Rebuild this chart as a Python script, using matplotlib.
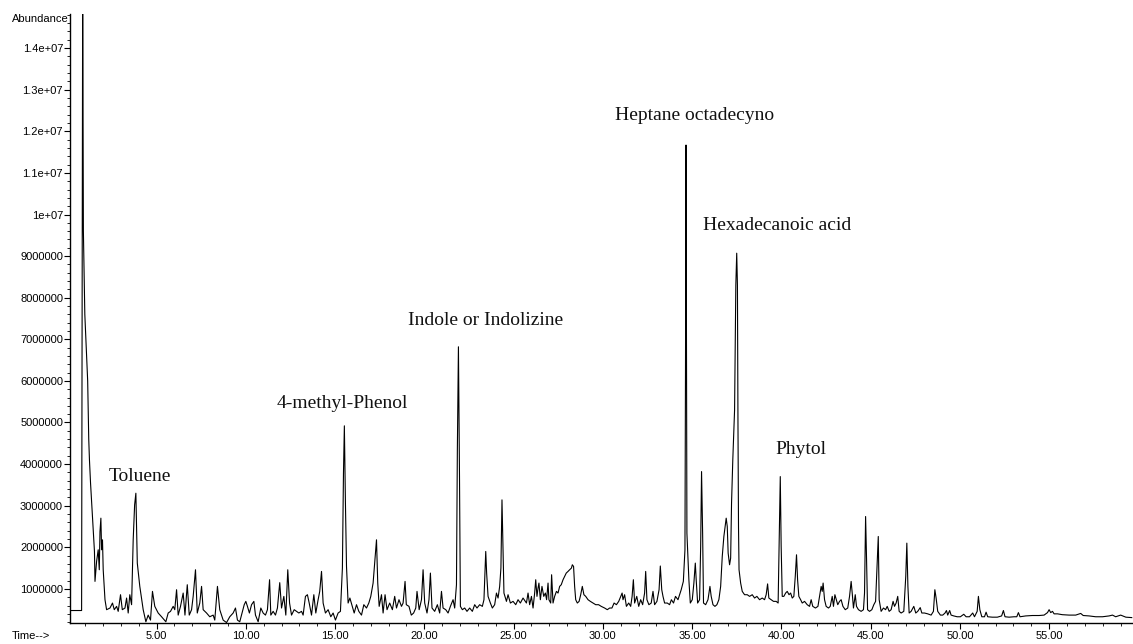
import numpy as np
import matplotlib.pyplot as plt
from matplotlib.ticker import MultipleLocator, FuncFormatter

# TIC: (retention time in min, abundance in millions)
seg_0_8 = [(0.15, 0.48), (0.80, 0.48), (0.86, 15.5), (0.87, 14.2), (0.88, 12.2), (0.90, 9.6),
           (0.98, 7.6), (1.14, 6.0), (1.16, 5.5), (1.20, 4.6), (1.24, 4.1), (1.30, 3.55),
           (1.40, 2.8), (1.52, 1.9), (1.55, 1.18), (1.64, 1.66), (1.73, 1.94), (1.79, 1.46),
           (1.83, 2.38), (1.88, 2.70), (1.92, 1.94), (1.97, 2.18), (2.01, 1.46), (2.11, 0.74),
           (2.20, 0.50), (2.39, 0.54), (2.53, 0.66), (2.63, 0.50), (2.76, 0.58), (2.85, 0.46),
           (2.98, 0.86), (3.08, 0.50), (3.23, 0.54), (3.32, 0.78), (3.41, 0.42), (3.50, 0.86),
           (3.60, 0.62), (3.69, 2.18), (3.77, 3.02), (3.84, 3.30), (3.92, 1.62), (4.06, 1.06),
           (4.25, 0.50), (4.40, 0.21), (4.53, 0.37), (4.66, 0.25), (4.77, 0.94), (4.90, 0.58),
           (5.09, 0.42), (5.28, 0.33), (5.52, 0.21), (5.65, 0.42), (5.78, 0.46), (5.93, 0.58),
           (6.02, 0.50), (6.12, 0.98), (6.21, 0.37), (6.34, 0.58), (6.49, 0.90), (6.59, 0.37),
           (6.72, 1.10), (6.83, 0.37), (6.96, 0.50), (7.05, 0.82), (7.18, 1.46), (7.28, 0.42),
           (7.42, 0.66), (7.52, 1.06), (7.61, 0.50), (7.80, 0.42), (7.98, 0.33), (8.17, 0.37),
           (8.26, 0.25), (8.41, 1.06)]

seg_8_17 = [(8.54, 0.50), (8.73, 0.25), (8.92, 0.19), (9.10, 0.33), (9.29, 0.42), (9.42, 0.54),
            (9.53, 0.25), (9.66, 0.21), (9.79, 0.42), (9.91, 0.62), (10.00, 0.70), (10.09, 0.58),
            (10.20, 0.42), (10.32, 0.62), (10.45, 0.70), (10.54, 0.37), (10.69, 0.21), (10.84, 0.54),
            (10.97, 0.42), (11.10, 0.37), (11.21, 0.50), (11.33, 1.22), (11.40, 0.37), (11.53, 0.46),
            (11.66, 0.37), (11.77, 0.54), (11.90, 1.15), (12.00, 0.54), (12.13, 0.82), (12.24, 0.37),
            (12.35, 1.46), (12.45, 0.66), (12.56, 0.37), (12.71, 0.50), (12.84, 0.46), (12.97, 0.42),
            (13.12, 0.46), (13.21, 0.37), (13.34, 0.82), (13.45, 0.86), (13.55, 0.66), (13.68, 0.37),
            (13.81, 0.86), (13.92, 0.42), (14.05, 0.74), (14.14, 0.94), (14.24, 1.42), (14.33, 0.66),
            (14.46, 0.42), (14.61, 0.50), (14.76, 0.33), (14.89, 0.42), (15.02, 0.25), (15.17, 0.42),
            (15.30, 0.46), (15.41, 1.50), (15.47, 3.78), (15.52, 4.92), (15.58, 3.06), (15.64, 1.54),
            (15.73, 0.66), (15.83, 0.78), (15.96, 0.58), (16.07, 0.42), (16.20, 0.62), (16.33, 0.46),
            (16.48, 0.37), (16.61, 0.62), (16.76, 0.54), (16.89, 0.66), (17.00, 0.82), (17.13, 1.14)]

seg_17_26 = [(17.32, 2.18), (17.39, 1.14), (17.47, 0.58), (17.60, 0.86), (17.69, 0.42), (17.80, 0.86),
             (17.91, 0.50), (18.06, 0.66), (18.21, 0.50), (18.34, 0.82), (18.44, 0.54), (18.58, 0.74),
             (18.72, 0.58), (18.81, 0.66), (18.92, 1.18), (18.99, 0.62), (19.14, 0.58), (19.27, 0.37),
             (19.40, 0.42), (19.52, 0.54), (19.59, 0.94), (19.71, 0.50), (19.84, 0.74), (19.93, 1.46),
             (20.02, 0.66), (20.15, 0.42), (20.26, 0.74), (20.34, 1.38), (20.43, 0.54), (20.58, 0.46),
             (20.73, 0.62), (20.86, 0.42), (20.96, 0.94), (21.05, 0.54), (21.20, 0.50), (21.33, 0.42),
             (21.46, 0.58), (21.61, 0.74), (21.70, 0.54), (21.80, 1.10), (21.85, 4.34), (21.91, 6.82),
             (21.97, 3.70), (22.02, 0.58), (22.13, 0.50), (22.26, 0.54), (22.39, 0.46), (22.54, 0.54),
             (22.69, 0.46), (22.82, 0.62), (22.95, 0.54), (23.10, 0.62), (23.25, 0.58), (23.34, 0.74),
             (23.44, 1.90), (23.49, 1.38), (23.57, 0.82), (23.70, 0.66), (23.81, 0.54), (23.94, 0.62),
             (24.04, 0.90), (24.13, 0.78), (24.22, 1.06), (24.29, 1.50), (24.35, 3.14), (24.41, 1.94),
             (24.46, 0.90), (24.60, 0.70), (24.69, 0.86), (24.82, 0.66), (24.97, 0.70), (25.12, 0.62),
             (25.25, 0.74), (25.38, 0.66), (25.53, 0.78)]

seg_26_34 = [(25.72, 0.66), (25.81, 0.90), (25.90, 0.62), (26.00, 0.82), (26.09, 0.54), (26.18, 0.90),
             (26.24, 1.22), (26.31, 0.82), (26.37, 1.02), (26.42, 1.14), (26.50, 0.74), (26.59, 1.06),
             (26.69, 0.82), (26.78, 0.90), (26.85, 0.74), (26.93, 1.14), (26.98, 0.74), (27.08, 0.66),
             (27.13, 1.34), (27.21, 0.66), (27.30, 0.82), (27.40, 0.94), (27.49, 0.90), (27.58, 1.06),
             (27.67, 1.10), (27.77, 1.22), (27.86, 1.30), (27.95, 1.38), (28.05, 1.42), (28.14, 1.46),
             (28.24, 1.50), (28.29, 1.58), (28.36, 1.54), (28.42, 1.06), (28.48, 0.74), (28.57, 0.66),
             (28.67, 0.70), (28.76, 0.86), (28.85, 1.06), (28.94, 0.86), (29.04, 0.82), (29.17, 0.74),
             (29.30, 0.70), (29.45, 0.66), (29.60, 0.62), (29.76, 0.62), (29.91, 0.58), (30.10, 0.54),
             (30.25, 0.50), (30.38, 0.54), (30.51, 0.54), (30.63, 0.66), (30.76, 0.62), (30.89, 0.70),
             (31.00, 0.82), (31.08, 0.90), (31.13, 0.74), (31.22, 0.86), (31.32, 0.58), (31.45, 0.66),
             (31.56, 0.58), (31.64, 0.82), (31.71, 1.22), (31.78, 0.66), (31.90, 0.82), (32.01, 0.58),
             (32.12, 0.74), (32.23, 0.62), (32.34, 0.90), (32.40, 1.42), (32.47, 0.74), (32.58, 0.62),
             (32.71, 0.66), (32.81, 0.94), (32.90, 0.62), (33.03, 0.70), (33.15, 0.98), (33.22, 1.55),
             (33.30, 0.98), (33.37, 0.82), (33.46, 0.66), (33.61, 0.66), (33.74, 0.62), (33.84, 0.74),
             (33.96, 0.66), (34.07, 0.82), (34.21, 0.74), (34.30, 0.86), (34.39, 0.98), (34.51, 1.18)]

seg_34_43 = [(34.60, 1.94), (34.63, 6.2), (34.66, 11.67), (34.71, 2.34), (34.77, 1.70), (34.82, 1.22),
             (34.90, 0.66), (35.01, 0.74), (35.10, 1.14), (35.18, 1.62), (35.23, 1.22), (35.31, 0.66),
             (35.42, 0.74), (35.48, 2.02), (35.53, 3.82), (35.59, 2.34), (35.64, 0.66), (35.76, 0.62),
             (35.89, 0.74), (36.00, 1.06), (36.07, 0.82), (36.17, 0.62), (36.28, 0.58), (36.39, 0.62),
             (36.50, 0.74), (36.60, 1.06), (36.69, 1.78), (36.78, 2.26), (36.86, 2.54), (36.91, 2.70),
             (36.97, 2.50), (37.02, 1.86), (37.10, 1.58), (37.16, 1.74), (37.21, 3.06), (37.28, 4.10),
             (37.38, 5.3), (37.45, 8.3), (37.50, 9.07), (37.54, 8.3), (37.57, 5.0), (37.60, 2.5),
             (37.63, 1.46), (37.72, 1.14), (37.81, 0.94), (37.94, 0.86), (38.09, 0.86), (38.22, 0.82),
             (38.37, 0.86), (38.50, 0.78), (38.63, 0.82), (38.78, 0.74), (38.93, 0.78), (39.06, 0.74),
             (39.15, 0.86), (39.23, 1.12), (39.30, 0.78), (39.43, 0.74), (39.56, 0.70), (39.71, 0.70),
             (39.82, 0.66), (39.88, 2.26), (39.94, 3.70), (39.99, 2.02), (40.05, 0.82), (40.14, 0.82),
             (40.24, 0.90), (40.33, 0.94), (40.43, 0.86), (40.52, 0.90), (40.61, 0.78), (40.70, 0.82),
             (40.78, 1.30), (40.85, 1.82), (40.91, 1.22), (40.98, 0.82), (41.08, 0.74), (41.17, 0.66),
             (41.30, 0.70), (41.45, 0.62), (41.58, 0.58), (41.67, 0.74), (41.76, 0.58), (41.91, 0.54),
             (42.05, 0.58), (42.14, 0.82), (42.23, 1.06), (42.29, 0.94), (42.34, 1.14), (42.42, 0.74),
             (42.51, 0.58), (42.64, 0.54), (42.74, 0.58), (42.85, 0.82), (42.92, 0.58), (43.00, 0.86)]

seg_43_52 = [(43.16, 0.62), (43.26, 0.70), (43.35, 0.74), (43.45, 0.58), (43.58, 0.50), (43.72, 0.54),
             (43.82, 0.82), (43.91, 1.18), (43.97, 0.90), (44.04, 0.54), (44.14, 0.86), (44.21, 0.58),
             (44.32, 0.50), (44.47, 0.46), (44.60, 0.50), (44.66, 0.90), (44.72, 2.74), (44.77, 1.78),
             (44.83, 0.50), (44.94, 0.46), (45.07, 0.50), (45.18, 0.62), (45.28, 0.70), (45.35, 1.42),
             (45.43, 2.26), (45.48, 0.74), (45.59, 0.46), (45.72, 0.54), (45.84, 0.50), (45.93, 0.58),
             (46.04, 0.46), (46.15, 0.50), (46.26, 0.70), (46.34, 0.58), (46.43, 0.66), (46.52, 0.82),
             (46.60, 0.46), (46.71, 0.42), (46.86, 0.46), (46.97, 1.30), (47.03, 2.10), (47.09, 1.06),
             (47.16, 0.42), (47.27, 0.46), (47.42, 0.58), (47.53, 0.42), (47.64, 0.46), (47.78, 0.55),
             (47.87, 0.42), (48.02, 0.42), (48.20, 0.40), (48.39, 0.37), (48.52, 0.46), (48.60, 0.98),
             (48.67, 0.78), (48.76, 0.46), (48.91, 0.37), (49.04, 0.37), (49.17, 0.42), (49.25, 0.48),
             (49.32, 0.37), (49.43, 0.48), (49.51, 0.37), (49.66, 0.35), (49.85, 0.33), (50.03, 0.33),
             (50.22, 0.39), (50.35, 0.33), (50.54, 0.33), (50.72, 0.42), (50.82, 0.33), (50.97, 0.46),
             (51.04, 0.82), (51.12, 0.50), (51.23, 0.33), (51.38, 0.33), (51.47, 0.44), (51.56, 0.33)]

seg_52_60 = [(51.82, 0.32), (52.10, 0.32), (52.34, 0.35), (52.44, 0.48), (52.53, 0.33), (52.76, 0.32),
             (53.04, 0.33), (53.19, 0.33), (53.28, 0.43), (53.37, 0.33), (53.69, 0.35), (54.06, 0.36),
             (54.44, 0.36), (54.72, 0.37), (54.91, 0.43), (55.00, 0.50), (55.09, 0.43), (55.19, 0.46),
             (55.28, 0.40), (55.47, 0.40), (55.74, 0.38), (56.12, 0.37), (56.49, 0.37), (56.77, 0.41),
             (56.91, 0.36), (57.24, 0.35), (57.61, 0.33), (57.99, 0.33), (58.36, 0.35), (58.55, 0.37),
             (58.73, 0.33), (59.01, 0.37), (59.30, 0.32), (59.63, 0.31)]

peak_names = ["Toluene", "4-methyl-Phenol", "Indole or Indolizine",
              "Heptane octadecyno", "Hexadecanoic acid", "Phytol"]
# where each label sits (time, abundance in millions)
label_xy = [(4.04, 3.69), (15.43, 5.45), (23.41, 7.44), (35.14, 12.37), (39.79, 9.73), (41.10, 4.34)]

pts = np.array(seg_0_8 + seg_8_17 + seg_17_26 + seg_26_34 + seg_34_43 + seg_43_52 + seg_52_60)
rt = pts[:, 0]
abund = pts[:, 1] * 1e6

fig = plt.figure(figsize=(11.33, 6.44), dpi=100)
ax = fig.add_axes([70 / 1133, 1 - 623 / 644, 1 - 70 / 1133, (623 - 14) / 644])

ax.plot(rt, abund, color="black", lw=0.8)

ax.set_xlim(0.15, 59.7)
ax.set_ylim(0.18e6, 14.82e6)

ax.spines["top"].set_visible(False)
ax.spines["right"].set_visible(False)
for s in ("left", "bottom"):
    ax.spines[s].set_linewidth(1.0)

ax.xaxis.set_major_locator(MultipleLocator(5))
ax.xaxis.set_minor_locator(MultipleLocator(1))
ax.xaxis.set_major_formatter(FuncFormatter(lambda v, p: f"{v:.2f}"))
ax.yaxis.set_major_locator(MultipleLocator(1e6))
ax.yaxis.set_minor_locator(MultipleLocator(2e5))
ax.yaxis.set_major_formatter(FuncFormatter(lambda v, p: f"{v:g}" if v >= 1e7 else f"{int(round(v))}"))

ax.tick_params(which="major", direction="out", length=4, width=0.8, labelsize=8, pad=1)
ax.tick_params(which="minor", direction="out", length=2, width=0.6)
ax.tick_params(axis="x", pad=2)
for lab in ax.get_xticklabels() + ax.get_yticklabels():
    lab.set_family("Liberation Sans")

for name, (tx, ty) in zip(peak_names, label_xy):
    ax.text(tx, ty * 1e6, name, family="Liberation Serif", fontsize=14,
            ha="center", va="center", color="#111111")

fig.text(69 / 1133, 1 - 19 / 644, "Abundance", family="Liberation Sans", fontsize=8,
         ha="right", va="center")
fig.text(12 / 1133, 1 - 636 / 644, "Time-->", family="Liberation Sans", fontsize=8,
         ha="left", va="center")

fig.savefig("out.png", dpi=100)
